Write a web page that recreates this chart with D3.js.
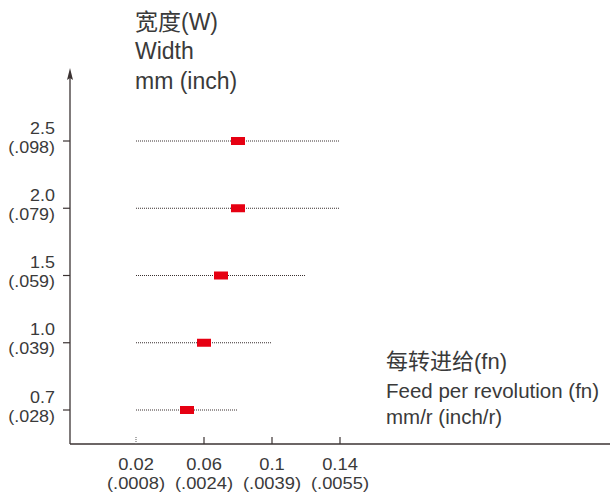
<!DOCTYPE html>
<html>
<head>
<meta charset="utf-8">
<script src="https://cdn.jsdelivr.net/npm/d3@7"></script>
<style>
  body { margin: 0; background: #fff; }
  text { font-family: "Liberation Sans", Arial, "Noto Sans CJK SC", sans-serif; fill: #3a3a3a; }
</style>
</head>
<body>
<div id="chart"></div>
<script>
// width categories (mm) with inch equivalents
const widths = ['2.5', '2.0', '1.5', '1.0', '0.7'];
const widthInch = ['(.098)', '(.079)', '(.059)', '(.039)', '(.028)'];
// feed range per width (mm/r)
const feedMin = [0.02, 0.02, 0.02, 0.02, 0.02];
const feedMax = [0.14, 0.14, 0.12, 0.10, 0.08];
const feedRec = [0.08, 0.08, 0.07, 0.06, 0.05];
// x ticks
const feedTicks = [0.02, 0.06, 0.1, 0.14];
const feedTickInch = ['(.0008)', '(.0024)', '(.0039)', '(.0055)'];

const W = 610, H = 492;
const svg = d3.select('#chart').append('svg')
    .attr('width', W).attr('height', H);

const axisX = 70, axisY = 444;
const x = d3.scaleLinear().domain([0.02, 0.14]).range([136, 340]);
const y = d3.scalePoint().domain(widths).range([141, 410]);
const axisColor = '#3b3333';

const rows = widths.map((w, i) => ({
    w, inch: widthInch[i], min: feedMin[i], max: feedMax[i], rec: feedRec[i]
}));

// y axis with arrow head
svg.append('line')
    .attr('x1', axisX).attr('x2', axisX)
    .attr('y1', axisY).attr('y2', 76)
    .attr('stroke', axisColor).attr('stroke-width', 1.3);
svg.append('path')
    .attr('d', `M${axisX},68 L${axisX - 3},80 L${axisX},78 L${axisX + 3},80 Z`)
    .attr('fill', axisColor);

// x axis
svg.append('line')
    .attr('x1', axisX).attr('x2', W)
    .attr('y1', axisY).attr('y2', axisY)
    .attr('stroke', axisColor).attr('stroke-width', 1.3);

// y ticks and labels (font is a bit wide in the original -> stretch x)
const yt = svg.selectAll('.ytick').data(rows).enter().append('g')
    .attr('class', 'ytick')
    .attr('transform', d => `translate(0,${y(d.w)})`);
yt.append('line')
    .attr('x1', axisX - 7).attr('x2', axisX)
    .attr('stroke', axisColor).attr('stroke-width', 1.2);
yt.append('text')
    .attr('transform', 'translate(55,-13) scale(1.12,1)')
    .attr('dy', '0.35em')
    .attr('text-anchor', 'end').attr('font-size', 16)
    .text(d => d.w);
yt.append('text')
    .attr('transform', 'translate(55,6) scale(1.12,1)')
    .attr('dy', '0.35em')
    .attr('text-anchor', 'end').attr('font-size', 16)
    .text(d => d.inch);

// x ticks and labels
const xt = svg.selectAll('.xtick').data(feedTicks).enter().append('g')
    .attr('class', 'xtick')
    .attr('transform', d => `translate(${x(d)},0)`);
xt.append('line')
    .attr('y1', axisY - 7).attr('y2', axisY)
    .attr('stroke', (d, i) => i === 0 ? '#777' : axisColor)
    .attr('stroke-width', 1.2)
    .attr('stroke-dasharray', (d, i) => i === 0 ? '1,1' : null);
xt.append('text')
    .attr('transform', 'translate(0,464) scale(1.08,1)')
    .attr('dy', '0.35em')
    .attr('text-anchor', 'middle').attr('font-size', 17)
    .text(d => d);
xt.append('text')
    .attr('transform', 'translate(0,483) scale(1.08,1)')
    .attr('dy', '0.35em')
    .attr('text-anchor', 'middle').attr('font-size', 17)
    .text((d, i) => feedTickInch[i]);

// feed range lines (dotted)
svg.selectAll('.range').data(rows).enter().append('line')
    .attr('class', 'range')
    .attr('x1', d => x(d.min)).attr('x2', d => x(d.max))
    .attr('y1', d => y(d.w)).attr('y2', d => y(d.w))
    .attr('stroke', '#3a3030').attr('stroke-width', 1.1)
    .attr('stroke-dasharray', '1,1');

// recommended feed markers
svg.selectAll('.rec').data(rows).enter().append('rect')
    .attr('class', 'rec')
    .attr('x', d => x(d.rec) - 7).attr('y', d => y(d.w) - 4)
    .attr('width', 14).attr('height', 8)
    .attr('fill', '#e60012');

// y axis title
const yTitle = ['宽度(W)', 'Width', 'mm (inch)'];
svg.selectAll('.ytitle').data(yTitle).enter().append('text')
    .attr('x', 135).attr('y', (d, i) => [22, 51, 81][i]).attr('dy', '0.35em')
    .attr('font-size', 23)
    .text(d => d);

// x axis title
const xTitle = ['每转进给(fn)', 'Feed per revolution (fn)', 'mm/r (inch/r)'];
svg.selectAll('.xtitle').data(xTitle).enter().append('text')
    .attr('x', 386).attr('y', (d, i) => [361, 391, 417][i]).attr('dy', '0.35em')
    .attr('font-size', (d, i) => i === 0 ? 22 : 20.5)
    .text(d => d);
</script>
</body>
</html>
